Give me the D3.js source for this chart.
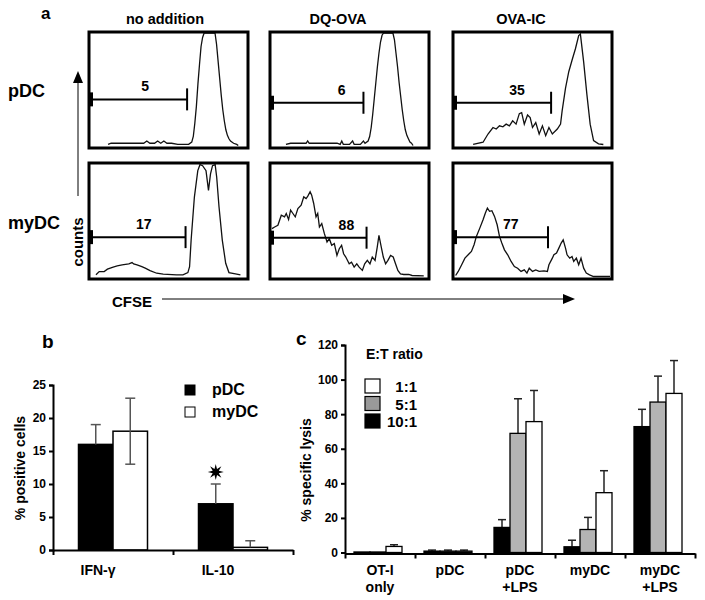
<!DOCTYPE html>
<html><head><meta charset="utf-8">
<script src="https://cdn.jsdelivr.net/npm/d3@7"></script>
<style>
body{margin:0;background:#fff}
svg{display:block;font-family:"Liberation Sans",Arial,Helvetica,sans-serif;font-weight:bold}
</style>
</head><body>
<svg id="chart" width="705" height="600"></svg>
<script>
// ---------------- Panel a : CFSE histograms (channel %, count % of max) ----------------
const histColumns = ["no addition", "DQ-OVA", "OVA-IC"];
const histRows = ["pDC", "myDC"];

const hist_pDC_none = [[11,1],[13,2],[20,2],[30,2],[34,2],[36,4],[38,2],[41,2],[43,4],[45,2],[47,4],[49,2],[52,2],[56,1],[60,1],[63,1],[65,3],[66,8],[67,20],[68,35],[69,55],[70,72],[71,88],[72,96],[73,100],[80,100],[81,90],[82,75],[83,60],[84,45],[85,32],[86,22],[87,14],[88,9],[89,6],[90,4],[92,2],[94,1],[95,0]];
const hist_pDC_dq = [[9,1],[12,2],[20,2],[22,2],[23,4],[24,2],[30,2],[36,2],[42,2],[44,1],[45,4],[46,1],[50,1],[52,4],[53,1],[57,1],[59,4],[60,2],[62,4],[63,8],[64,16],[65,28],[66,42],[67,56],[68,70],[69,82],[70,92],[71,98],[72,100],[78,100],[79,94],[80,82],[81,70],[82,56],[83,44],[84,32],[85,22],[86,14],[87,9],[88,6],[89,3],[90,2],[91,0]];
const hist_pDC_ic = [[11.7,0.9],[18.1,2.9],[21.3,10.2],[24.5,16],[26.6,14.6],[28.7,17.5],[30.9,16.6],[33,19],[35.1,17.5],[37.2,21.9],[39.4,19],[41.5,28.3],[43,29.2],[44.7,19],[46.8,27.1],[48.5,24.8],[50,16],[52.1,20.4],[54.3,10.2],[56.4,17.5],[58.5,8.7],[60.6,16],[62.8,10.2],[66,14.6],[68.1,19],[69.1,30.6],[71.3,51],[73.4,65.6],[75.5,75.8],[77.7,86],[79.8,97.7],[80.9,99],[83,74.3],[85.1,45.2],[87.2,19],[89.4,4.4],[92.6,1.5],[95.7,0.9]];
const hist_myDC_none = [[3.2,1.5],[5.3,4.4],[8.5,4.4],[10.6,6.5],[13.8,8.2],[16.9,9.4],[20.1,10.3],[24.4,11.2],[26.5,12.4],[27.5,11.2],[29.7,10.3],[32.8,8.8],[35,7.4],[38.1,5.3],[42.4,2.9],[46.6,2.1],[55.1,1.5],[59.3,1.5],[62.5,3.5],[63.6,8.8],[64.6,32.4],[66.7,70.6],[68.9,94.1],[70.3,99.4],[72,98.5],[74.2,94.1],[75.8,76.5],[77.1,91.2],[78.4,98.5],[80.1,99.4],[81.1,88.2],[82.6,61.8],[84.7,32.4],[86.9,11.8],[89,3.5],[93.2,2.4],[96.4,1.5]];
const hist_myDC_dq = [[0,42.6],[1.7,44],[3.8,45.5],[6,54.5],[8.1,53],[9.2,56],[10.7,50.6],[12,59],[13.5,56],[15,53],[16.7,60.4],[18.8,63.4],[20.5,70.8],[22,69.3],[23.1,71.4],[24.6,75.3],[25.6,72.3],[26.9,64.9],[28.4,53],[29.5,56],[30.6,44],[32.1,47],[33.8,38.1],[35.5,30.7],[37,33.6],[38.5,27.7],[40.2,29.2],[41.9,18.8],[43.4,24.7],[44.9,27.7],[46.2,20.2],[47.6,17.3],[49.8,11.3],[51.3,12.8],[53,8.3],[54.7,11.3],[56.2,8.3],[58.3,5.4],[59.8,11.3],[61.5,14.3],[63.2,11.3],[64.7,17.3],[66.5,14.3],[67.9,26.2],[69,36.6],[70.5,26.2],[71.8,17.3],[73.3,11.3],[74.8,14.3],[76.5,18.8],[78.2,17.3],[79.7,11.3],[81.2,5.4],[82.9,2.4],[85,1.8],[88.2,1.8],[90.4,0.9],[97.9,0.6]];
const hist_myDC_ic = [[0.4,0.9],[2.1,4.5],[4.3,10.4],[6.4,16.3],[8.5,19.3],[10.6,22.3],[12.3,28.2],[13.8,35.6],[16,43],[18.1,50.4],[19.6,56.4],[20.9,60.8],[22.3,57.9],[23.8,58.5],[25.5,53.4],[27.2,46],[28.7,35.6],[30.2,29.7],[31.9,23.7],[34,19.3],[36.2,13.4],[38.3,8.9],[40.4,7.4],[42.6,4.5],[44.7,5.9],[46.4,3],[47.9,7.4],[50,4.5],[52.1,5.9],[54.3,4.5],[57.4,5],[59.6,4.5],[60.6,10.4],[62.8,16.3],[63.8,19.3],[65.5,20.8],[67,25.2],[68.5,29.7],[69.8,32.6],[71.3,25.2],[72.3,19.3],[74,16.3],[75.5,17.8],[76.6,13.4],[78.3,16.3],[79.8,10.4],[81.3,16.3],[83,7.4],[84.7,3],[86.8,1.5],[89.4,0],[100,0]];
const histData = [[hist_pDC_none, hist_pDC_dq, hist_pDC_ic],[hist_myDC_none, hist_myDC_dq, hist_myDC_ic]];

const gateValues = [["5","6","35"],["17","88","77"]];
const gateEndChannel = [[62,59,62],[61,61,60]];
const gateCountLevel = [[41,38,38],[35,34.5,35]];
const gateLabelChannel = [[35,45,40],[34,48,36]];

// ---------------- Panel b ----------------
const bCategories = ["IFN-γ", "IL-10"];
const bSeries = ["pDC", "myDC"];
const b_pDC = [16, 7];
const b_pDC_err = [3, 3];
const b_myDC = [18, 0.4];
const b_myDC_err = [5, 1];
const bTicks = [0, 5, 10, 15, 20, 25];

// ---------------- Panel c ----------------
const cCategories = ["OT-I only", "pDC", "pDC +LPS", "myDC", "myDC +LPS"];
const cSeries = ["10:1", "5:1", "1:1"];
const cLegendOrder = ["1:1", "5:1", "10:1"];
const c_10to1 = [0.3, 0.8, 14.5, 3.3, 72.8];
const c_10to1_err = [0, 0.6, 4.5, 3.8, 10];
const c_5to1 = [0.3, 0.8, 68.9, 13.3, 87];
const c_5to1_err = [0, 0.6, 20, 7, 15];
const c_1to1 = [3.5, 0.8, 75.7, 34.6, 92];
const c_1to1_err = [1, 0.6, 18, 12.7, 19];
const cTicks = [0, 20, 40, 60, 80, 100, 120];

// ====================================================================
const svg = d3.select("#chart");

// ---------- Panel a ----------
const colX = [89, 270, 453], rowY = [32, 163], pw = 159, ph = 116;

svg.append("text").attr("x", 41).attr("y", 19).attr("font-size", 17).text("a");
histColumns.forEach((c, j) => {
  svg.append("text").attr("x", [165, 338, 521][j]).attr("y", 24).attr("text-anchor", "middle")
    .attr("font-size", 14.5).text(c);
});
svg.append("text").attr("x", 8).attr("y", 97).attr("font-size", 18).text(histRows[0]);
svg.append("text").attr("x", 8).attr("y", 229).attr("font-size", 18).text(histRows[1]);

const defs = svg.append("defs");
histRows.forEach((r, i) => {
  histColumns.forEach((c, j) => {
    const x0 = colX[j], y0 = rowY[i];
    const xs = d3.scaleLinear().domain([0, 100]).range([x0 + 2, x0 + pw - 2]);
    const ys = d3.scaleLinear().domain([0, 100]).range([y0 + ph - 2.5, y0 + 1]);
    const id = `clip${i}${j}`;
    defs.append("clipPath").attr("id", id).append("rect")
      .attr("x", x0).attr("y", y0).attr("width", pw).attr("height", ph);
    const g = svg.append("g");
    g.append("path").datum(histData[i][j]).attr("clip-path", `url(#${id})`)
      .attr("fill", "none").attr("stroke", "#111").attr("stroke-width", 1.3)
      .attr("d", d3.line().x(d => xs(d[0])).y(d => ys(d[1])));
    // gate
    const gy = ys(gateCountLevel[i][j]);
    g.append("line").attr("x1", x0).attr("x2", xs(gateEndChannel[i][j])).attr("y1", gy).attr("y2", gy)
      .attr("stroke", "#000").attr("stroke-width", 2);
    g.append("line").attr("x1", xs(gateEndChannel[i][j])).attr("x2", xs(gateEndChannel[i][j]))
      .attr("y1", gy - 11).attr("y2", gy + 11).attr("stroke", "#000").attr("stroke-width", 2);
    g.append("rect").attr("x", x0).attr("y", gy - 7).attr("width", 4).attr("height", 14).attr("fill", "#000");
    g.append("text").attr("x", xs(gateLabelChannel[i][j])).attr("y", gy - 8).attr("text-anchor", "middle")
      .attr("font-size", 14).text(gateValues[i][j]);
    // frame
    g.append("rect").attr("x", x0).attr("y", y0).attr("width", pw).attr("height", ph)
      .attr("fill", "none").attr("stroke", "#000").attr("stroke-width", 3);
  });
});

// counts arrow
svg.append("line").attr("x1", 78).attr("x2", 78).attr("y1", 196).attr("y2", 80).attr("stroke", "#000").attr("stroke-width", 1);
svg.append("path").attr("d", "M78,71 L73,83 L83,83 Z").attr("fill", "#000");
svg.append("text").attr("transform", "translate(83,242) rotate(-90)").attr("text-anchor", "middle")
  .attr("font-size", 15).text("counts");
// CFSE arrow
svg.append("text").attr("x", 112).attr("y", 307).attr("font-size", 15).text("CFSE");
svg.append("line").attr("x1", 162).attr("x2", 565).attr("y1", 299).attr("y2", 299).attr("stroke", "#000").attr("stroke-width", 1);
svg.append("path").attr("d", "M575,299 L563,294 L563,304 Z").attr("fill", "#000");

// ---------- Panel b ----------
svg.append("text").attr("x", 42).attr("y", 348).attr("font-size", 19).text("b");
const yB = d3.scaleLinear().domain([0, 25]).range([550, 385]);
const xB = d3.scaleBand().domain(bCategories).range([53, 293]);
const xB1 = d3.scaleBand().domain(bSeries).range([25.5, 94.5]);
const bFill = { pDC: "#000", myDC: "#fff" };
const bVals = { pDC: b_pDC, myDC: b_myDC };
const bErrs = { pDC: b_pDC_err, myDC: b_myDC_err };
const bData = bCategories.flatMap((c, k) => bSeries.map(s => ({ c, s, v: bVals[s][k], e: bErrs[s][k] })));

const gB = svg.append("g");
gB.selectAll("rect.bar").data(bData).join("rect").attr("class", "bar")
  .attr("x", d => xB(d.c) + xB1(d.s)).attr("width", xB1.bandwidth())
  .attr("y", d => yB(d.v)).attr("height", d => yB(0) - yB(d.v))
  .attr("fill", d => bFill[d.s]).attr("stroke", "#000").attr("stroke-width", 1.5);
const bx = d => xB(d.c) + xB1(d.s) + xB1.bandwidth() / 2;
const bErr = gB.selectAll("g.err").data(bData).join("g").attr("class", "err");
// upward whisker
bErr.append("line").attr("x1", bx).attr("x2", bx)
  .attr("y1", d => yB(d.v)).attr("y2", d => yB(d.v + d.e))
  .attr("stroke", "#555").attr("stroke-width", 1.5);
bErr.append("line").attr("x1", d => bx(d) - 5).attr("x2", d => bx(d) + 5)
  .attr("y1", d => yB(d.v + d.e)).attr("y2", d => yB(d.v + d.e)).attr("stroke", "#555").attr("stroke-width", 1.5);
// downward whisker visible only inside open bars
const openB = bErr.filter(d => d.s === "myDC" && d.v - d.e > 0.5);
openB.append("line").attr("x1", bx).attr("x2", bx)
  .attr("y1", d => yB(d.v)).attr("y2", d => yB(d.v - d.e)).attr("stroke", "#555").attr("stroke-width", 1.5);
openB.append("line").attr("x1", d => bx(d) - 5).attr("x2", d => bx(d) + 5)
  .attr("y1", d => yB(d.v - d.e)).attr("y2", d => yB(d.v - d.e)).attr("stroke", "#555").attr("stroke-width", 1.5);

// star (significance) above IL-10 pDC
const starD = bData.find(d => d.c === "IL-10" && d.s === "pDC");
const starPts = d3.range(16).map(k => {
  const a = k * Math.PI / 8 - Math.PI / 2, r = k % 2 === 0 ? 8 : 3.3;
  return [r * Math.cos(a), r * Math.sin(a)];
});
gB.append("path").attr("d", "M" + starPts.join("L") + "Z").attr("fill", "#000")
  .attr("transform", `translate(${bx(starD)},${yB(starD.v + starD.e) - 12})`);

const axB = gB.append("g").attr("transform", "translate(53,0)")
  .call(d3.axisLeft(yB).tickValues(bTicks).tickSize(4).tickPadding(3));
const xBb = d3.scaleLinear().domain([0, bCategories.length]).range([53, 293]);
const axBx = gB.append("g").attr("transform", `translate(0,${yB(0)})`)
  .call(d3.axisBottom(xBb).tickValues(d3.range(bCategories.length + 1)).tickFormat("").tickSize(5).tickSizeOuter(0));
[axB, axBx].forEach(a => {
  a.select(".domain").attr("stroke-width", 2);
  a.selectAll(".tick line").attr("stroke-width", 2);
  a.selectAll("text").attr("font-size", 12).attr("font-family", "'Liberation Sans Narrow','Liberation Sans',Arial,sans-serif").attr("font-weight", "bold");
});
bCategories.forEach(c => {
  gB.append("text").attr("x", xB(c) + xB.bandwidth() / 2 - 15).attr("y", 575).attr("text-anchor", "middle")
    .attr("font-size", 14).text(c);
});
svg.append("text").attr("transform", "translate(25,468) rotate(-90)").attr("text-anchor", "middle")
  .attr("font-size", 14).text("% positive cells");
// legend b
bSeries.forEach((s, k) => {
  svg.append("rect").attr("x", 185).attr("y", 385 + k * 22).attr("width", 10).attr("height", 10)
    .attr("fill", bFill[s]).attr("stroke", "#000").attr("stroke-width", 1);
  svg.append("text").attr("x", 212).attr("y", 395 + k * 22).attr("font-size", 16).text(s);
});

// ---------- Panel c ----------
svg.append("text").attr("x", 296).attr("y", 345).attr("font-size", 19).text("c");
const yC = d3.scaleLinear().domain([0, 120]).range([552.5, 345]);
const xC = d3.scaleBand().domain(cCategories).range([345, 695]);
const xC1 = d3.scaleBand().domain(cSeries).range([9, 57]);
const cFill = { "10:1": "#000", "5:1": "#b4b4b4", "1:1": "#fff" };
const cVals = { "10:1": c_10to1, "5:1": c_5to1, "1:1": c_1to1 };
const cErrs = { "10:1": c_10to1_err, "5:1": c_5to1_err, "1:1": c_1to1_err };
const cData = cCategories.flatMap((c, k) => cSeries.map(s => ({ c, s, v: cVals[s][k], e: cErrs[s][k] })));

const gC = svg.append("g");
const cx = d => xC(d.c) + xC1(d.s) + xC1.bandwidth() / 2;
gC.selectAll("g.err").data(cData.filter(d => d.e > 0)).join("g").attr("class", "err").each(function (d) {
  const g = d3.select(this);
  g.append("line").attr("x1", cx(d)).attr("x2", cx(d)).attr("y1", yC(d.v)).attr("y2", yC(d.v + d.e))
    .attr("stroke", "#222").attr("stroke-width", 1.5);
  g.append("line").attr("x1", cx(d) - 4).attr("x2", cx(d) + 4).attr("y1", yC(d.v + d.e)).attr("y2", yC(d.v + d.e))
    .attr("stroke", "#222").attr("stroke-width", 1.5);
});
gC.selectAll("rect.bar").data(cData).join("rect").attr("class", "bar")
  .attr("x", d => xC(d.c) + xC1(d.s)).attr("width", xC1.bandwidth())
  .attr("y", d => yC(d.v)).attr("height", d => yC(0) - yC(d.v))
  .attr("fill", d => cFill[d.s]).attr("stroke", "#000").attr("stroke-width", 1.3);

const axC = gC.append("g").attr("transform", "translate(345,0)")
  .call(d3.axisLeft(yC).tickValues(cTicks).tickSize(4).tickPadding(3));
const xCb = d3.scaleLinear().domain([0, cCategories.length]).range([345, 695]);
const axCx = gC.append("g").attr("transform", `translate(0,${yC(0) + 1})`)
  .call(d3.axisBottom(xCb).tickValues(d3.range(cCategories.length + 1)).tickFormat("").tickSize(5).tickSizeOuter(0));
[axC, axCx].forEach(a => {
  a.select(".domain").attr("stroke-width", 2);
  a.selectAll(".tick line").attr("stroke-width", 2);
  a.selectAll("text").attr("font-size", 12).attr("font-family", "'Liberation Sans Narrow','Liberation Sans',Arial,sans-serif").attr("font-weight", "bold");
});
cCategories.forEach(c => {
  const parts = c.split(" ");
  const t = gC.append("text").attr("x", xC(c) + xC.bandwidth() / 2).attr("y", 575).attr("text-anchor", "middle").attr("font-size", 14);
  parts.forEach((p, k) => t.append("tspan").attr("x", xC(c) + xC.bandwidth() / 2).attr("dy", k ? 17 : 0).text(p));
});
svg.append("text").attr("transform", "translate(311,470) rotate(-90)").attr("text-anchor", "middle")
  .attr("font-size", 14).text("% specific lysis");
// legend c
svg.append("text").attr("x", 366).attr("y", 359).attr("font-size", 14).text("E:T ratio");
cLegendOrder.forEach((s, k) => {
  svg.append("rect").attr("x", 365).attr("y", 379 + k * 17.5).attr("width", 15).attr("height", 14)
    .attr("fill", s === "5:1" ? "#999" : cFill[s]).attr("stroke", "#000").attr("stroke-width", 1.2);
  svg.append("text").attr("x", 417).attr("y", 392 + k * 17.5).attr("text-anchor", "end").attr("font-size", 15).text(s);
});
</script>
</body></html>
